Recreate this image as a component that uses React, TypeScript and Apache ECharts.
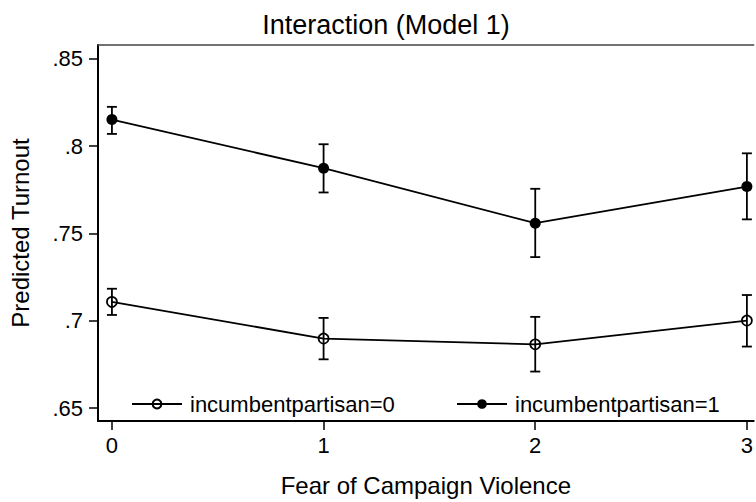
import React, { useEffect, useRef } from "react";
import * as echarts from "echarts";

const titleText = "Interaction (Model 1)";
const xTitle = "Fear of Campaign Violence";
const yTitle = "Predicted Turnout";
const xValues = [0, 1, 2, 3];
const xTickLabels = ["0", "1", "2", "3"];
const yTickValues = [0.65, 0.7, 0.75, 0.8, 0.85];
const yTickLabels = [".65", ".7", ".75", ".8", ".85"];
const seriesNames = ["incumbentpartisan=0", "incumbentpartisan=1"];
const p0 = [0.7109, 0.6899, 0.6866, 0.7002];
const p0Lo = [0.7034, 0.678, 0.671, 0.6853];
const p0Hi = [0.7184, 0.7017, 0.7023, 0.7148];
const p1 = [0.8152, 0.7874, 0.7559, 0.7769];
const p1Lo = [0.807, 0.7735, 0.7365, 0.7581];
const p1Hi = [0.8225, 0.8011, 0.7756, 0.7959];

const FONT = "'Liberation Sans', Arial, Helvetica, sans-serif";

function errorBarSeries(lo: number[], hi: number[]) {
  return {
    type: "custom",
    silent: true,
    z: 1,
    encode: { x: 0, y: [1, 2] },
    data: xValues.map((x, i) => [x, lo[i], hi[i]]),
    renderItem: (params: any, api: any) => {
      const x = api.value(0);
      const a = api.coord([x, api.value(1)]);
      const b = api.coord([x, api.value(2)]);
      const w = 5;
      const st = { stroke: "#000", lineWidth: 1.8 };
      return {
        type: "group",
        children: [
          { type: "line", shape: { x1: a[0], y1: a[1], x2: b[0], y2: b[1] }, style: st },
          { type: "line", shape: { x1: a[0] - w, y1: a[1], x2: a[0] + w, y2: a[1] }, style: st },
          { type: "line", shape: { x1: b[0] - w, y1: b[1], x2: b[0] + w, y2: b[1] }, style: st },
        ],
      };
    },
  };
}

export default function App() {
  const ref = useRef<HTMLDivElement>(null);
  useEffect(() => {
    if (!ref.current) return;
    const chart = echarts.init(ref.current, null, { renderer: "svg" });
    const xMin = -0.0658;
    const xMax = 3.032;
    const axisCommon = {
      min: xMin,
      max: xMax,
      type: "value",
      splitLine: { show: false },
    };
    chart.setOption({
      animation: false,
      backgroundColor: "#fff",
      textStyle: { fontFamily: FONT, color: "#000" },
      title: {
        text: titleText,
        left: 381,
        top: 6,
        textAlign: "center",
        textStyle: { fontFamily: FONT, fontSize: 27, fontWeight: "normal", color: "#000" },
      },
      grid: { left: 97, right: 0, top: 45, bottom: 75, containLabel: false },
      xAxis: [
        {
          ...axisCommon,
          position: "bottom",
          name: xTitle,
          nameLocation: "middle",
          nameGap: 52,
          nameTextStyle: { fontFamily: FONT, fontSize: 24, color: "#000" },
          axisLine: { show: true, onZero: false, lineStyle: { color: "#000", width: 2 } },
          axisTick: { show: true, length: 9, customValues: xValues, lineStyle: { color: "#000", width: 1.5 } },
          axisLabel: {
            show: true,
            customValues: xValues,
            margin: 13,
            fontSize: 22,
            fontFamily: FONT,
            color: "#000",
            formatter: (v: number) => xTickLabels[xValues.indexOf(Math.round(v))] ?? "",
          },
        },
        {
          ...axisCommon,
          position: "top",
          axisLine: { show: true, onZero: false, lineStyle: { color: "#444", width: 1.5 } },
          axisTick: { show: false },
          axisLabel: { show: false },
        },
      ],
      yAxis: {
        type: "value",
        min: 0.6427,
        max: 0.8579,
        name: yTitle,
        nameLocation: "middle",
        nameRotate: 90,
        nameGap: 66,
        nameTextStyle: { fontFamily: FONT, fontSize: 24, color: "#000" },
        splitLine: { show: false },
        axisLine: { show: true, onZero: false, lineStyle: { color: "#000", width: 2 } },
        axisTick: { show: true, length: 9, customValues: yTickValues, lineStyle: { color: "#000", width: 1.5 } },
        axisLabel: {
          show: true,
          customValues: yTickValues,
          margin: 15,
          fontSize: 22,
          fontFamily: FONT,
          color: "#000",
          formatter: (v: number) => {
            const i = yTickValues.findIndex((t) => Math.abs(t - v) < 1e-6);
            return i >= 0 ? yTickLabels[i] : "";
          },
        },
      },
      legend: [
        {
          data: [seriesNames[0]],
          left: 126,
          top: 388,
          itemWidth: 50,
          itemHeight: 11,
          textStyle: { fontFamily: FONT, fontSize: 22, color: "#000", padding: [0, 0, 0, 3] },
        },
        {
          data: [seriesNames[1]],
          left: 451,
          top: 388,
          itemWidth: 50,
          itemHeight: 12,
          textStyle: { fontFamily: FONT, fontSize: 22, color: "#000", padding: [0, 0, 0, 3] },
        },
      ],
      series: [
        errorBarSeries(p0Lo, p0Hi),
        errorBarSeries(p1Lo, p1Hi),
        {
          name: seriesNames[0],
          type: "line",
          z: 3,
          data: xValues.map((x, i) => [x, p0[i]]),
          symbol: "circle",
          symbolSize: 10,
          lineStyle: { color: "#000", width: 1.8 },
          itemStyle: { color: "rgba(255,255,255,0)", borderColor: "#000", borderWidth: 1.7 },
        },
        {
          name: seriesNames[1],
          type: "line",
          z: 3,
          data: xValues.map((x, i) => [x, p1[i]]),
          symbol: "circle",
          symbolSize: 11,
          lineStyle: { color: "#000", width: 1.8 },
          itemStyle: { color: "#000", borderColor: "#000", borderWidth: 0 },
        },
      ],
    });
    return () => chart.dispose();
  }, []);
  return (
    <div
      ref={ref}
      style={{ position: "fixed", left: 0, top: 0, width: 756, height: 502, background: "#fff" }}
    />
  );
}
